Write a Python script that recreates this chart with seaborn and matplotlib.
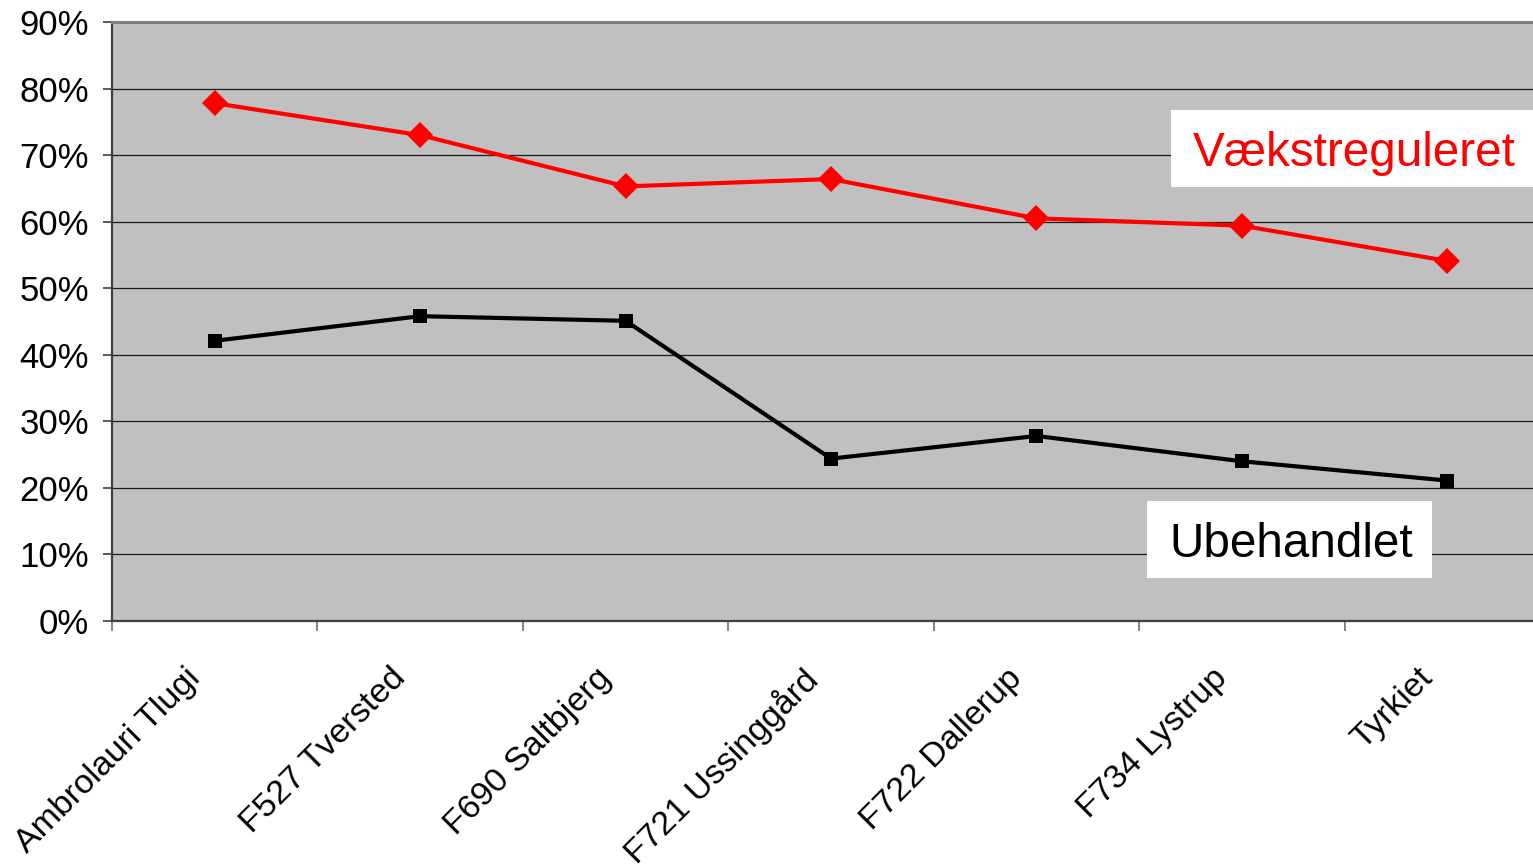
import matplotlib
matplotlib.use("Agg")
import matplotlib.pyplot as plt
import matplotlib.patches as mpatches
import matplotlib.transforms as mtransforms
from matplotlib.ticker import FixedLocator, PercentFormatter
import numpy as np
import pandas as pd
import seaborn as sns

# Categories (sites / origins)
sites = [
    "Ambrolauri Tlugi",
    "F527 Tversted",
    "F690 Saltbjerg",
    "F721 Ussinggård",
    "F722 Dallerup",
    "F734 Lystrup",
    "Tyrkiet",
]
# Share of plants (%) per treatment
vaekstreguleret = [77.8, 73.0, 65.3, 66.4, 60.5, 59.4, 54.1]
ubehandlet = [42.1, 45.8, 45.1, 24.4, 27.8, 24.0, 21.1]
y_ticks = [0, 10, 20, 30, 40, 50, 60, 70, 80, 90]

df = pd.DataFrame({
    "site": sites * 2,
    "pos": list(range(len(sites))) * 2,
    "value": vaekstreguleret + ubehandlet,
    "treatment": ["Vækstreguleret"] * len(sites) + ["Ubehandlet"] * len(sites),
})

sns.set_theme(style="white")
plt.rcParams["font.family"] = ["Liberation Sans", "DejaVu Sans"]

W, H = 1533, 864
fig = plt.figure(figsize=(W / 100, H / 100), dpi=100)
fig.patch.set_facecolor("white")

# plot area (extends slightly past the right edge of the canvas)
left, top, bottom, right = 112, 22, 621, 1550
ax = fig.add_axes([left / W, 1 - bottom / H, (right - left) / W, (bottom - top) / H])
ax.set_facecolor("#C0C0C0")

# horizontal gridlines
ax.set_ylim(0, 90)
ax.yaxis.set_major_locator(FixedLocator(y_ticks))
ax.yaxis.set_major_formatter(PercentFormatter(decimals=0))
ax.grid(axis="y", color="#1a1a1a", linewidth=0.9)
ax.set_axisbelow(True)

sns.lineplot(data=df[df.treatment == "Ubehandlet"], x="pos", y="value",
             color="black", linewidth=3.0, marker="s", markersize=9.5,
             markeredgewidth=0, ax=ax, zorder=3)
sns.lineplot(data=df[df.treatment == "Vækstreguleret"], x="pos", y="value",
             color="#FF0000", linewidth=3.0, marker="D", markersize=13,
             markeredgewidth=0, ax=ax, zorder=4)

ax.set_xlim(-0.5, len(sites) - 0.5)
ax.set_xlabel("")
ax.set_ylabel("")

# category labels at centers, tick marks at category boundaries
ax.set_xticks(range(len(sites)))
ax.set_xticklabels(sites, rotation=45, ha="right", va="top",
                   rotation_mode="anchor", fontsize=24.5, color="black")
ax.set_xticks(np.arange(-0.5, len(sites)), minor=True)
ax.tick_params(axis="x", which="major", length=0, pad=30)
ax.tick_params(axis="x", which="minor", length=7.5, width=1.2,
               color="#707070", direction="out", bottom=True)
ax.tick_params(axis="y", which="major", length=6.5, width=1.2,
               color="#404040", direction="out", left=True, pad=10,
               labelsize=25, labelcolor="black")
shift = mtransforms.ScaledTranslation(-30 / 100, 0, fig.dpi_scale_trans)
for lbl in ax.get_xticklabels():
    lbl.set_transform(lbl.get_transform() + shift)

for side in ["left", "bottom"]:
    ax.spines[side].set_color("#404040")
    ax.spines[side].set_linewidth(1.6)
ax.spines["top"].set_color("#808080")
ax.spines["top"].set_linewidth(2.2)
ax.spines["right"].set_visible(False)


def fx(x):
    return x / W


def fy(y):
    return 1 - y / H


# series name boxes
boxes = [
    ("Vækstreguleret", "#FF0000", 1171, 110, 1540, 187, 1193, 166),
    ("Ubehandlet", "black", 1147, 501, 1432, 578, 1169, 557),
]
for text, color, x0, y0, x1, y1, tx, ty in boxes:
    fig.patches.append(mpatches.Rectangle(
        (fx(x0), fy(y1)), fx(x1 - x0), (y1 - y0) / H,
        transform=fig.transFigure, facecolor="white", edgecolor="none",
        zorder=5))
    fig.text(fx(tx), fy(ty), text, color=color, fontsize=34.3,
             ha="left", va="baseline", zorder=6)

fig.savefig("out.png", dpi=100, facecolor="white")
